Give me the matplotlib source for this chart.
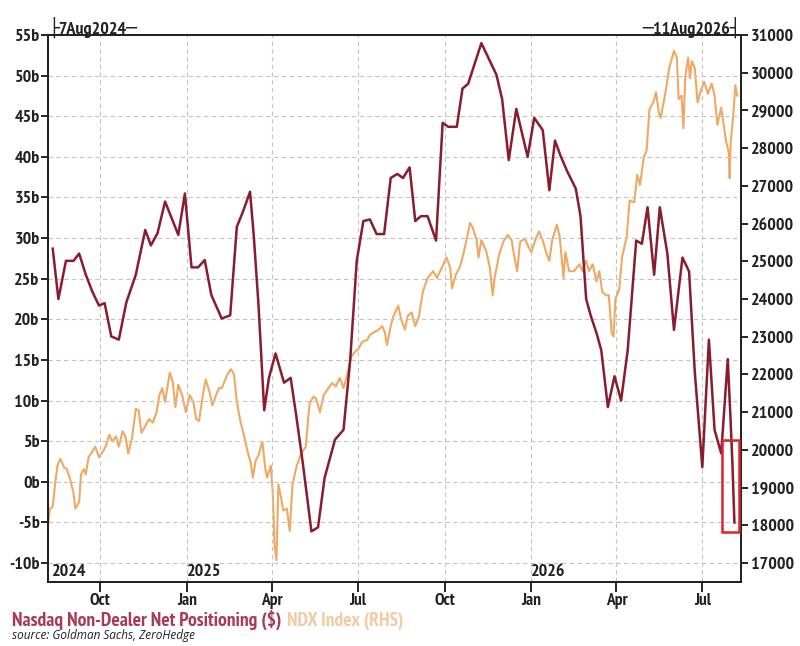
import matplotlib
matplotlib.use("Agg")
import matplotlib.pyplot as plt
import matplotlib.dates as mdates
import matplotlib.transforms as mtransforms
import matplotlib.font_manager as fm
from matplotlib.patches import Rectangle
import pandas as pd

plt.rcParams["font.family"] = ["Liberation Sans", "DejaVu Sans"]


def narrow_family():
    # look for a narrow/condensed family among the installed fonts
    for f in fm.fontManager.ttflist:
        if "Narrow" in f.name and f.weight in (700, "bold") and f.style == "normal":
            return f.name
    return None


NARROW = narrow_family()


def fp(size):
    if NARROW:
        return fm.FontProperties(family=[NARROW, "DejaVu Sans"], weight="bold",
                                 size=size)
    return fm.FontProperties(family=["Liberation Sans", "DejaVu Sans"],
                             weight="bold", size=size * 0.88)


# ---------------------------------------------------------
# DATA (days counted from 7Aug2024)
# ---------------------------------------------------------
start = pd.Timestamp("2024-08-07")
end = pd.Timestamp("2026-08-11")

pos_days = [5, 11, 19, 27, 33, 40, 47, 54, 60, 67, 75, 83, 93, 103, 109, 116,
            124, 138, 145, 152, 159, 166, 173, 184, 193, 200, 206, 214, 218,
            223, 229, 234, 241, 250, 257, 263, 270, 279, 286, 293, 304, 313,
            320, 327, 334, 341, 348, 356, 363, 370, 376, 383, 389, 395, 402,
            411, 418, 424, 433, 439, 445, 459, 475, 481, 488, 496, 508, 515,
            524, 531, 537, 543, 550, 559, 564, 570, 575, 581, 586, 593, 600,
            607, 614, 623, 629, 635, 642, 648, 656, 663, 672, 679, 685, 693,
            700, 706, 713, 720, 723, 725, 727]
pos_values = [28.7, 22.5, 27.2, 27.2, 28.1, 25.5, 23.4, 21.7, 22.0, 17.9, 17.5,
              22.1, 25.5, 31.0, 29.1, 30.6, 34.5, 30.4, 35.5, 26.4, 26.4, 27.3,
              23.0, 20.1, 20.5, 31.4, 33.1, 35.7, 30.2, 21.7, 8.8, 12.8, 15.8,
              12.2, 12.8, 8.1, 2.2, -6.1, -5.6, 0.5, 5.2, 6.4, 14.9, 27.2, 32.1,
              32.3, 30.5, 30.5, 37.4, 37.9, 37.4, 38.7, 32.1, 32.7, 32.7, 29.7,
              44.2, 43.7, 43.7, 48.4, 49.0, 54.0, 50.1, 47.1, 39.6, 45.9, 40.0,
              44.8, 43.3, 35.9, 42.0, 40.1, 38.2, 36.1, 32.7, 22.5, 20.4, 18.3,
              16.2, 9.2, 13.0, 10.0, 16.2, 29.7, 29.3, 33.8, 25.5, 33.8, 28.1,
              18.7, 27.6, 25.9, 13.6, 1.8, 17.5, 6.4, 3.5, 15.1, 7.5, 2.0, -5.0]

ndx_days = [0, 2, 5, 7, 10, 13, 17, 20, 24, 27, 29, 33, 35, 38, 40, 43, 47, 50,
            54, 58, 61, 65, 68, 72, 75, 79, 82, 85, 89, 93, 96, 99, 103, 107,
            111, 115, 118, 121, 124, 127, 129, 132, 135, 138, 142, 146, 150,
            154, 157, 160, 164, 167, 171, 174, 178, 181, 184, 190, 194, 197,
            200, 204, 207, 211, 215, 217, 220, 223, 227, 230, 232, 236, 238,
            240, 242, 244, 247, 249, 253, 256, 259, 263, 268, 273, 277, 281,
            284, 288, 292, 297, 301, 305, 309, 313, 317, 321, 325, 329, 333,
            338, 341, 347, 350, 354, 357, 359, 363, 366, 371, 374, 378, 381,
            385, 389, 393, 397, 402, 408, 412, 417, 422, 426, 428, 432, 436,
            440, 444, 447, 450, 454, 456, 459, 464, 468, 471, 473, 478, 483,
            487, 491, 494, 497, 500, 505, 509, 512, 516, 520, 524, 528, 531,
            534, 539, 542, 546, 548, 552, 557, 563, 566, 570, 573, 577, 581,
            584, 587, 591, 594, 597, 599, 601, 605, 608, 613, 616, 621, 624,
            627, 631, 634, 637, 641, 644, 647, 649, 654, 658, 663, 666, 668,
            671, 673, 675, 678, 680, 682, 685, 688, 691, 695, 699, 703, 706,
            709, 713, 716, 718, 721, 722, 723, 726, 728, 730]
ndx_values = [17985, 18441, 18487, 18989, 19582, 19764, 19536, 19491, 19171,
              18852, 18441, 18624, 19354, 19491, 19354, 19810, 19947, 20084,
              19810, 19947, 20084, 20403, 20221, 20358, 20084, 20495, 20358,
              19902, 20312, 21088, 21042, 20449, 20632, 20814, 20723, 20997,
              21453, 21636, 21271, 21727, 22046, 21818, 21134, 21727, 21453,
              20997, 21453, 21271, 20814, 20769, 21453, 21864, 21545, 21180,
              21453, 21636, 21636, 22001, 22138, 22001, 21271, 20723, 20449,
              19993, 19628, 19263, 19719, 19856, 20221, 19537, 19263, 19582,
              18897, 17437, 17072, 19080, 18715, 18395, 18441, 17848, 19080,
              19537, 19902, 20084, 21225, 21408, 21362, 20997, 21453, 21636,
              21773, 21682, 21910, 21636, 22001, 22457, 22594, 22685, 22868,
              22913, 23050, 23142, 23187, 23279, 23096, 22777, 23279, 23552,
              23826, 23461, 23187, 23552, 23644, 23279, 23552, 24191, 24556,
              24739, 24556, 24830, 25104, 24830, 24282, 24648, 24830, 25195,
              25651, 26017, 25880, 25560, 25104, 25560, 25286, 24830, 24100,
              24556, 25195, 25560, 25697, 25560, 25104, 24739, 25515, 25606,
              25378, 25240, 25560, 25788, 25560, 25195, 25013, 25560, 25971,
              25651, 24556, 25241, 24739, 24739, 24921, 24739, 25013, 24739,
              24921, 24465, 24739, 24191, 24100, 24100, 23096, 23005, 24009,
              24237, 25104, 25651, 26610, 26564, 27294, 27021, 27751, 27933,
              29029, 29211, 29485, 28937, 28800, 29485, 30124, 30580, 30398,
              29302, 29394, 28527, 29896, 30398, 29850, 30306, 30124, 29211,
              29485, 29759, 29439, 29713, 29394, 28618, 29074, 28572, 28207,
              27888, 27203, 28116, 28937, 29667, 29394]

year_labels = ["2024", "2025", "2026"]
year_starts = ["2024-08-07", "2025-01-01", "2026-01-01"]

box_dates = ["2026-07-22", "2026-08-09"]
box_values = [-6.2, 5.2]

RED = "#8A1C30"
ORANGE = "#F0A862"
GRID = "#c4c4c4"
INK = "#222222"

pos_dates = start + pd.to_timedelta(pos_days, unit="D")
ndx_dates = start + pd.to_timedelta(ndx_days, unit="D")

fig = plt.figure(figsize=(8, 6.46), dpi=100)
ax = fig.add_axes([0.06, 0.0991, 0.86625, 0.8467])
ax2 = ax.twinx()

ax2.plot(ndx_dates, ndx_values, color=ORANGE, lw=1.5)
ax.plot(pos_dates, pos_values, color=RED, lw=1.8)

# red line on top of the orange one
ax.set_zorder(ax2.get_zorder() + 1)
ax.patch.set_visible(False)

ax.set_xlim(start, end)
ax.set_ylim(-12.33, 55)
ax2.set_ylim(16496, 31000)

ax.set_yticks(range(-10, 56, 5))
ax.set_yticklabels([f"{v}b" for v in range(-10, 56, 5)])
ax2.set_yticks(range(17000, 31001, 1000))

ax.xaxis.set_major_locator(mdates.MonthLocator(bymonth=[1, 4, 7, 10]))
ax.xaxis.set_major_formatter(mdates.DateFormatter("%b"))

ax.grid(True, ls=(0, (4, 3)), color=GRID, lw=0.8)
ax.set_axisbelow(True)

for a in (ax, ax2):
    for s in a.spines.values():
        s.set_linewidth(1.4)
        s.set_color(INK)

ax.tick_params(axis="x", direction="out", length=7, width=1.2, pad=1)
ax.tick_params(axis="y", direction="out", length=5, width=1.2, pad=1)
ax2.tick_params(axis="y", direction="out", length=5, width=1.2, pad=2)
for lab in ax.get_yticklabels() + ax2.get_yticklabels():
    lab.set_fontproperties(fp(13))
    lab.set_color(INK)
for lab in ax.get_xticklabels():
    lab.set_fontproperties(fp(12.5))
    lab.set_color(INK)

# year labels inside the frame
trans = mtransforms.blended_transform_factory(ax.transData, ax.transAxes)
for i, (lab, d) in enumerate(zip(year_labels, year_starts)):
    x = mdates.date2num(pd.Timestamp(d)) + (4 if i == 0 else 0)
    ax.text(x, 0.004, lab, transform=trans, ha="left", va="bottom",
            fontproperties=fp(13), color=INK)

# red highlight box
bx0 = mdates.date2num(pd.Timestamp(box_dates[0]))
bx1 = mdates.date2num(pd.Timestamp(box_dates[1]))
ax.add_patch(Rectangle((bx0, box_values[0]), bx1 - bx0,
                       box_values[1] - box_values[0],
                       fill=False, edgecolor="#D8262C", lw=1.8, zorder=5,
                       clip_on=False))

# date range stamps above the frame
fig.text(0.06, 0.957, "├7Aug2024─", ha="left", va="center",
         fontproperties=fp(13), color=INK)
fig.text(0.926, 0.957, "─11Aug2026┤", ha="right", va="center",
         fontproperties=fp(13), color=INK)

# legend text and source
t1 = fig.text(0.015, 1 - 620 / 646, "Nasdaq Non-Dealer Net Positioning ($)",
              ha="left", va="center", fontproperties=fp(14),
              color="#A93A56")
ax.annotate("NDX Index (RHS)", xy=(1, 0), xycoords=t1, xytext=(4, 0),
            textcoords="offset points", ha="left", va="bottom",
            fontproperties=fp(14), color="#F2CBA2",
            annotation_clip=False)

fig.text(0.015, 1 - 635 / 646, "source: Goldman Sachs, ZeroHedge", ha="left",
         va="center", fontsize=8.5, style="italic", color=INK,
         family=["Open Sans", "DejaVu Sans"])

fig.savefig("out.png", dpi=100)
plt.close(fig)
